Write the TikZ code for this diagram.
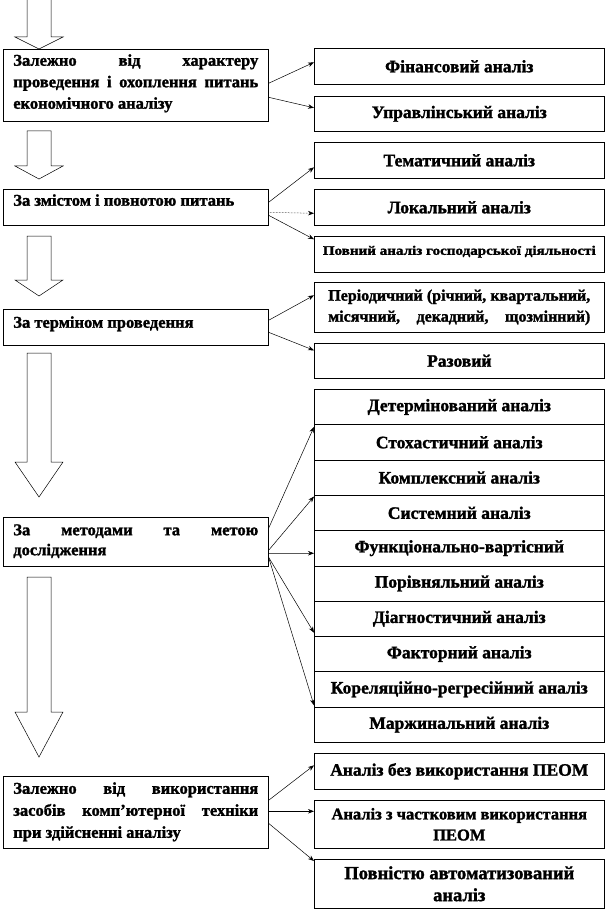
\documentclass[tikz,border=0pt]{standalone}
\usepackage{fontspec}
\setmainfont{Liberation Serif}[BoldFeatures={FakeBold=1.5}]
\usetikzlibrary{arrows.meta,calc}
\newcommand{\blkarrow}[3]{%
  \draw[barrow] (27,#1) -- (27,#2) -- (15,#2) -- (39,#3) -- (63,#2) -- (51,#2) -- (51,#1) -- cycle;}
\begin{document}
\begin{tikzpicture}[x=1pt,y=-1pt,
  lbox/.style={draw=black, line width=0.6pt, anchor=north west, inner xsep=10pt, inner ysep=5pt, fill=white},
  rbox/.style={draw=black, line width=0.6pt, anchor=north west, minimum width=290pt, inner sep=2pt, align=center, font=\fontsize{17.5}{21}\selectfont\bfseries, fill=white},
  barrow/.style={draw=black, line width=0.5pt, fill=white},
  conn/.style={draw=black, line width=0.5pt, -{Stealth[length=6pt,width=4.5pt]}}
]
\useasboundingbox (0,0) rectangle (606,909);
\clip (0,0) rectangle (606,909);
% block arrows
\blkarrow{-2}{37}{49}
\blkarrow{131}{166}{179}
\blkarrow{236}{280}{296}
\blkarrow{353}{462}{497}
\blkarrow{577}{712}{757}
% left boxes
\node[lbox] (l1) at (3,49) {\parbox[c][62pt][t]{245pt}{\fontsize{16.5}{21.5}\selectfont\bfseries Залежно від характеру\linebreak проведення і охоплення питань\linebreak економічного аналізу}};
\node[lbox] (l2) at (3,189) {\parbox[c][26pt][t]{245pt}{\fontsize{16.5}{21.5}\selectfont\bfseries За змістом і повнотою питань}};
\node[lbox] (l3) at (3,309) {\parbox[c][26pt][t]{245pt}{\fontsize{16.5}{21.5}\selectfont\bfseries\vspace*{2pt}За терміном проведення}};
\node[lbox] (l4) at (3,517) {\parbox[c][39pt][t]{245pt}{\fontsize{16.5}{20}\selectfont\bfseries\vspace*{2pt}За методами та метою\linebreak дослідження}};
\node[lbox] (l5) at (3,776) {\parbox[c][62pt][t]{245pt}{\fontsize{16.5}{22}\selectfont\bfseries\vspace*{1pt}Залежно від використання\linebreak засобів комп’ютерної техніки\linebreak при здійсненні аналізу}};
% right boxes
\node[rbox, minimum height=36pt] (fin) at (314,48) {Фінансовий аналіз};
\node[rbox, minimum height=35pt] (upr) at (314,96) {Управлінський аналіз};
\node[rbox, minimum height=36pt] (tem) at (314,142) {Тематичний аналіз};
\node[rbox, minimum height=36pt] (lok) at (314,189) {Локальний аналіз};
\node[rbox, minimum height=36pt, font=\fontsize{13}{15}\selectfont\bfseries] (pov) at (314,236) {\raisebox{8pt}{\scalebox{1.16}[1]{Повний аналіз господарської діяльності}}};
\node[rbox, minimum height=50pt] (per) at (314,282) {\parbox{262pt}{\fontsize{16}{21}\selectfont\bfseries\parfillskip=0pt Періодичний (річний, квартальний,\linebreak місячний, декадний, щозмінний)}};
\node[rbox, minimum height=35pt] (raz) at (314,343) {Разовий};
% stack
\foreach \t [count=\i] in {Детермінований аналіз, Стохастичний аналіз, Комплексний аналіз, Системний аналіз, Функціонально-вартісний, Порівняльний аналіз, Діагностичний аналіз, Факторний аналіз, Кореляційно-регресійний аналіз, Маржинальний аналіз}{
  \node[rbox, minimum height=35.3pt] (s\i) at (314,{389+35.3*(\i-1)}) {\t};
}
\node[rbox, minimum height=36pt] (bez) at (314,753) {Аналіз без використання ПЕОМ};
\node[rbox, minimum height=48pt, font=\fontsize{16.5}{21}\selectfont\bfseries] (chas) at (314,800) {Аналіз з частковим використання\\ПЕОМ};
\node[rbox, minimum height=49pt, font=\fontsize{18.5}{22}\selectfont\bfseries] (povn) at (314,859) {Повністю автоматизований\\аналіз};
% connectors
\draw[conn] ([yshift=2pt]l1.east) -- ([yshift=4pt]fin.west);
\draw[conn] ([yshift=-12pt]l1.east) -- ([yshift=6pt]upr.west);
\draw[conn] ([yshift=5pt]l2.east) -- ([yshift=-7pt]tem.west);
\draw[conn, densely dotted] ([yshift=-5pt]l2.east) -- ([yshift=-6pt]lok.west);
\draw[conn] ([yshift=-8pt]l2.east) -- ([yshift=15pt]pov.west);
\draw[conn] ([yshift=7pt]l3.east) -- ([yshift=12pt]per.west);
\draw[conn] ([yshift=-5pt]l3.east) -- ([yshift=10.5pt]raz.west);
\draw[conn] ([yshift=13.5pt]l4.east) -- ([yshift=-2pt]s1.south west);
\draw[conn] ([yshift=-8.5pt]l4.east) -- ([yshift=-1pt]s3.south west);
\draw[conn] ([yshift=-11.5pt]l4.east) -- ([yshift=-5.1pt]s5.west);
\draw[conn] ([yshift=-15.5pt]l4.east) -- ([yshift=4pt]s7.south west);
\draw[conn] ([yshift=-15.5pt]l4.east) -- ([yshift=2pt]s9.south west);
\draw[conn] ([yshift=12pt]l5.east) -- ([yshift=6pt]bez.west);
\draw[conn] ([yshift=1pt]l5.east) -- ([yshift=13pt]chas.west);
\draw[conn] ([yshift=-11pt]l5.east) -- ([yshift=-2pt]povn.north west);
\end{tikzpicture}
\end{document}
